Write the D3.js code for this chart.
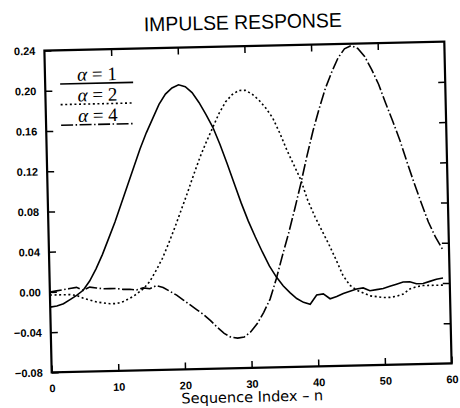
<!DOCTYPE html>
<html lang="en">
<head>
  <meta charset="UTF-8">
  <title>Impulse response</title>
  <script src="https://d3js.org/d3.v7.min.js"></script>
  <style>
    body { margin: 0; background: #fff; }
    .tick text { font-family: "Liberation Sans", Arial, sans-serif; font-weight: bold; font-size: 11px; }
  </style>
</head>
<body>
  <svg width="460" height="408"></svg>
  <script>
    // sequence index n = 0..59
    var n = d3.range(0, 60);

    // alpha = 1 (solid)
    var alpha1 = [-0.015, -0.014, -0.012, -0.008, -0.004, 0.001, 0.010, 0.022, 0.036, 0.052,
                  0.068, 0.086, 0.104, 0.122, 0.140, 0.156, 0.170, 0.184, 0.194, 0.200,
                  0.203, 0.201, 0.195, 0.185, 0.173, 0.160, 0.143, 0.124, 0.104, 0.084,
                  0.066, 0.050, 0.035, 0.021, 0.010, 0.001, -0.006, -0.012, -0.016, -0.018,
                  -0.009, -0.008, -0.013, -0.011, -0.008, -0.006, -0.004, -0.003, -0.006, -0.005,
                  -0.004, -0.002, 0.000, 0.002, 0.002, 0.000, 0.000, 0.002, 0.004, 0.005];
    // alpha = 2 (dotted)
    var alpha2 = [-0.003, -0.003, -0.003, -0.003, -0.004, -0.007, -0.009, -0.011, -0.012, -0.013,
                  -0.013, -0.011, -0.008, -0.004, 0.001, 0.008, 0.019, 0.031, 0.046, 0.062,
                  0.079, 0.096, 0.114, 0.131, 0.146, 0.160, 0.174, 0.185, 0.192, 0.196,
                  0.196, 0.192, 0.186, 0.178, 0.168, 0.153, 0.136, 0.121, 0.106, 0.085,
                  0.069, 0.055, 0.041, 0.026, 0.010, 0.000, -0.005, -0.008, -0.011, -0.012,
                  -0.013, -0.013, -0.012, -0.010, -0.005, -0.003, -0.002, -0.002, -0.002, -0.002];
    // alpha = 4 (dash-dot)
    var alpha4 = [0.000, 0.001, 0.002, 0.003, 0.004, 0.001, 0.004, 0.003, 0.002, 0.002,
                  0.002, 0.001, 0.001, 0.000, 0.002, 0.001, 0.004, 0.002, -0.002, -0.006,
                  -0.011, -0.016, -0.021, -0.026, -0.032, -0.039, -0.045, -0.049, -0.050, -0.049,
                  -0.044, -0.036, -0.025, -0.012, 0.008, 0.031, 0.053, 0.077, 0.102, 0.129,
                  0.154, 0.176, 0.196, 0.212, 0.226, 0.235, 0.238, 0.235, 0.227, 0.214,
                  0.199, 0.180, 0.162, 0.143, 0.121, 0.100, 0.080, 0.061, 0.046, 0.034];

    var xTicks = [0, 10, 20, 30, 40, 50, 60];
    var yTicks = [-0.08, -0.04, 0.00, 0.04, 0.08, 0.12, 0.16, 0.20, 0.24];
    var legendLabels = ["1", "2", "4"];

    var svg = d3.select("svg");
    var m = { left: 48, right: 448, top: 46, bottom: 368 };

    // the scanned original sits slightly tilted
    var g = svg.append("g")
      .attr("transform", "rotate(-1.3," + (m.left + m.right) / 2 + "," + (m.top + m.bottom) / 2 + ")");

    var x = d3.scaleLinear().domain([0, 60]).range([m.left, m.right]);
    var y = d3.scaleLinear().domain([-0.08, 0.24]).range([m.bottom, m.top]);

    // title
    g.append("text")
      .attr("x", 247).attr("y", 29)
      .attr("text-anchor", "middle")
      .attr("font-family", "Liberation Sans, Arial, sans-serif")
      .attr("font-size", 20)
      .attr("textLength", 198)
      .attr("lengthAdjust", "spacingAndGlyphs")
      .text("IMPULSE RESPONSE");

    // axes with inward ticks
    var fmt = d3.format(".2f");
    g.append("g")
      .attr("transform", "translate(" + m.left + ",0)")
      .call(d3.axisLeft(y).tickValues(yTicks).tickFormat(fmt).tickSize(-7).tickPadding(9))
      .call(function (a) { a.select(".domain").remove(); });
    g.append("g")
      .attr("transform", "translate(" + m.right + ",0)")
      .call(d3.axisRight(y).tickValues(yTicks.slice(1, -1)).tickSize(-7).tickFormat(""))
      .call(function (a) { a.select(".domain").remove(); });
    g.append("g")
      .attr("transform", "translate(0," + m.bottom + ")")
      .call(d3.axisBottom(x).tickValues(xTicks).tickSize(-7).tickPadding(12))
      .call(function (a) { a.select(".domain").remove(); });
    g.append("g")
      .attr("transform", "translate(0," + m.top + ")")
      .call(d3.axisTop(x).tickValues(xTicks.slice(1, -1)).tickSize(-7).tickFormat(""))
      .call(function (a) { a.select(".domain").remove(); });
    g.selectAll(".tick line").attr("stroke-width", 1.5);

    // frame
    g.append("rect")
      .attr("x", m.left).attr("y", m.top)
      .attr("width", m.right - m.left).attr("height", m.bottom - m.top)
      .attr("fill", "none").attr("stroke", "#000").attr("stroke-width", 2.2);

    // x label
    g.append("text")
      .attr("x", 248).attr("y", 402)
      .attr("text-anchor", "middle")
      .attr("font-family", "DejaVu Sans, sans-serif")
      .attr("font-size", 14.5)
      .text("Sequence Index \u2013 n");

    var series = [
      { values: alpha1, dash: null },
      { values: alpha2, dash: "2,2.6" },
      { values: alpha4, dash: "12,2.5,1.5,2.5" }
    ];

    var line = d3.line()
      .x(function (d, i) { return x(n[i]); })
      .y(function (d) { return y(d); });

    g.selectAll(".curve")
      .data(series)
      .enter()
      .append("path")
      .attr("class", "curve")
      .attr("d", function (d) { return line(d.values); })
      .attr("fill", "none")
      .attr("stroke", "#000")
      .attr("stroke-width", 1.6)
      .attr("stroke-dasharray", function (d) { return d.dash; });

    // legend
    var lg = g.selectAll(".legend")
      .data(series)
      .enter()
      .append("g")
      .attr("class", "legend")
      .attr("transform", function (d, i) { return "translate(0," + (i * 20.6) + ")"; });

    lg.append("line")
      .attr("x1", 63).attr("x2", 136)
      .attr("y1", 79.8).attr("y2", 79.8)
      .attr("stroke", "#000")
      .attr("stroke-width", 1.6)
      .attr("stroke-dasharray", function (d) { return d.dash; });

    var lt = lg.append("text")
      .attr("x", 100).attr("y", 77)
      .attr("text-anchor", "middle")
      .attr("font-family", "Liberation Serif, serif")
      .attr("font-size", 19);
    lt.append("tspan").attr("font-style", "italic").text("\u03b1");
    lt.append("tspan").text(function (d, i) { return " = " + legendLabels[i]; });
  </script>
</body>
</html>
